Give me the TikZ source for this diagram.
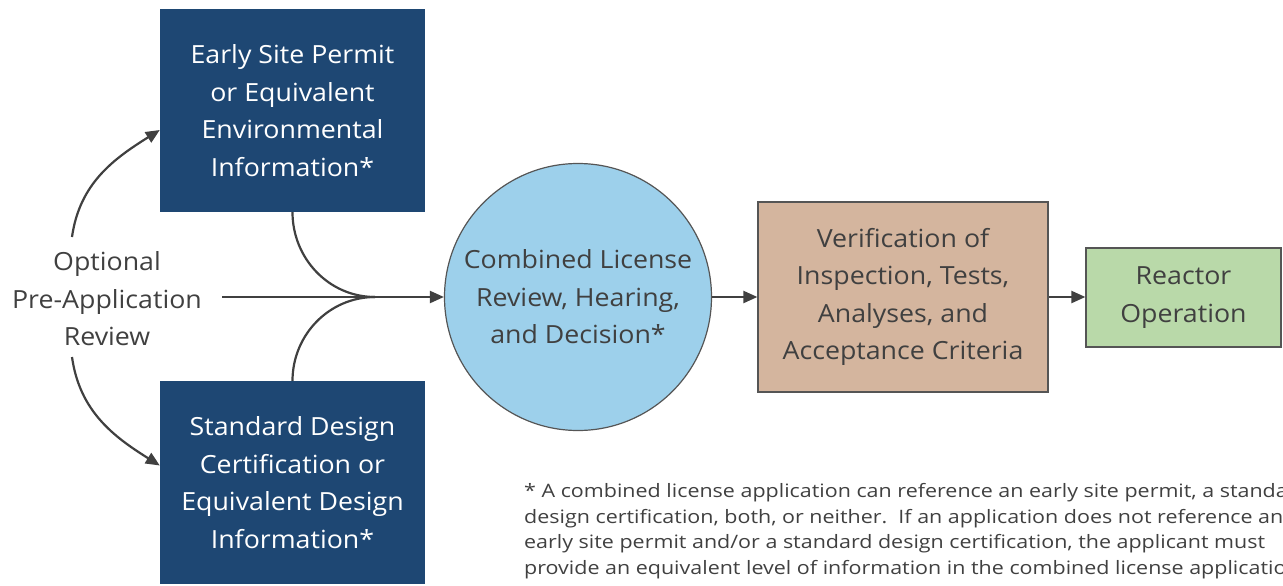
\documentclass[tikz,border=0pt]{standalone}
\usepackage{fontspec}
\setmainfont{Open Sans}
\newfontfamily\boxfam[FakeStretch=1.07]{Open Sans}
\newfontfamily\notefam[FakeStretch=1.16]{Open Sans}
\usetikzlibrary{arrows.meta}
\definecolor{boxblue}{HTML}{1E4773}
\definecolor{circblue}{HTML}{9DD0EB}
\definecolor{boxtan}{HTML}{D4B59E}
\definecolor{boxgreen}{HTML}{B9D9A9}
\definecolor{ink}{HTML}{404040}
\definecolor{rim}{HTML}{555555}
\newcommand{\boxfont}{\boxfam\fontsize{25}{37.5}\selectfont}
\newcommand{\notefont}{\notefam\fontsize{18.5}{25.7}\selectfont}

\begin{document}
\begin{tikzpicture}[x=1pt, y=-1pt,
    darkbox/.style={fill=boxblue, text=white, minimum width=265pt,
      minimum height=203pt, align=center, font=\boxfont, inner sep=0pt},
    litebox/.style={draw=rim, line width=1.2pt, text=ink, align=center,
      font=\boxfont, inner sep=0pt},
    arr/.style={draw=ink, line width=2.2pt, -{Triangle[length=14pt,width=12pt]}},
    link/.style={draw=ink, line width=2.2pt}]
  \useasboundingbox (0,0) rectangle (1283,586);
  \clip (0,0) rectangle (1283,586);
  \node[darkbox] (esp) at (292.5,110.5)
    {Early Site Permit\\or Equivalent\\Environmental\\Information*};
  \node[darkbox] (sdc) at (292.5,482.5)
    {Standard Design\\Certification or\\Equivalent Design\\Information*};
  \node[font=\boxfont, text=ink, align=center, inner sep=0pt] (opt) at (107,299)
    {Optional\\Pre-Application\\Review};
  \node[litebox, circle, fill=circblue, minimum size=267pt] (colr) at (578,297)
    {Combined License\\Review, Hearing,\\and Decision*};
  \node[litebox, fill=boxtan, minimum width=290pt, minimum height=190pt]
    (itaac) at (903,297)
    {Verification of\\Inspection, Tests,\\Analyses, and\\Acceptance Criteria};
  \node[litebox, fill=boxgreen, minimum width=195pt, minimum height=99pt]
    (oper) at (1183.5,297.5) {Reactor\\Operation};
  \node[font=\notefont, text=ink, align=left, anchor=north west, inner sep=0pt]
    (note) at (524,483)
    {* A combined license application can reference an early site permit, a standard\\
     design certification, both, or neither.\ \ If an application does not reference an\\
     early site permit and/or a standard design certification, the applicant must\\
     provide an equivalent level of information in the combined license application.};
  \coordinate (merge) at (375,297);
  \coordinate (optup) at (72,237);
  \coordinate (optdown) at (72,357);
  % branches into the circle
  \draw[link] (esp.south) to[out=-90, in=180] (merge);
  \draw[link] (sdc.north) to[out=90, in=180] (merge);
  \draw[arr] ([xshift=20pt]opt.east |- colr.west) -- (colr.west);
  \draw[arr] (optup) to[out=82, in=212] ([yshift=-19.5pt]esp.west);
  \draw[arr] (optdown) to[out=-82, in=148] ([yshift=17pt]sdc.west);
  \draw[arr] (colr.east) -- (itaac.west);
  \draw[arr] (itaac.east) -- (itaac.east -| oper.west);
\end{tikzpicture}
\end{document}
